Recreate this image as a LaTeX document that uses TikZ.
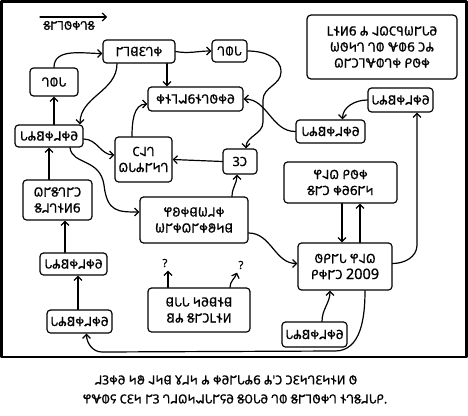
\documentclass[tikz,border=0pt]{standalone}
\usepackage{fontspec}
\setmainfont{Noto Sans}
\newfontfamily\dsr[FakeBold=0.8]{Noto Sans Deseret}
\newfontfamily\latfont[FakeBold=0.6]{Noto Sans}
\usetikzlibrary{arrows.meta,calc}
\def\dLI{\char"10400\relax}
\def\dLE{\char"10401\relax}
\def\dLA{\char"10402\relax}
\def\dLAH{\char"10403\relax}
\def\dLO{\char"10404\relax}
\def\dLOO{\char"10405\relax}
\def\dSI{\char"10406\relax}
\def\dSE{\char"10407\relax}
\def\dSA{\char"10408\relax}
\def\dSAH{\char"10409\relax}
\def\dSO{\char"1040A\relax}
\def\dSOO{\char"1040B\relax}
\def\dAY{\char"1040C\relax}
\def\dOW{\char"1040D\relax}
\def\dW{\char"1040E\relax}
\def\dY{\char"1040F\relax}
\def\dH{\char"10410\relax}
\def\dP{\char"10411\relax}
\def\dB{\char"10412\relax}
\def\dT{\char"10413\relax}
\def\dD{\char"10414\relax}
\def\dCH{\char"10415\relax}
\def\dJ{\char"10416\relax}
\def\dK{\char"10417\relax}
\def\dG{\char"10418\relax}
\def\dF{\char"10419\relax}
\def\dV{\char"1041A\relax}
\def\dETH{\char"1041B\relax}
\def\dTHEE{\char"1041C\relax}
\def\dS{\char"1041D\relax}
\def\dZ{\char"1041E\relax}
\def\dSH{\char"1041F\relax}
\def\dZH{\char"10420\relax}
\def\dR{\char"10421\relax}
\def\dL{\char"10422\relax}
\def\dM{\char"10423\relax}
\def\dN{\char"10424\relax}
\def\dNG{\char"10425\relax}
\def\dOI{\char"10426\relax}
\def\dEW{\char"10427\relax}
\newcommand\lat[1]{{\latfont #1}}
\newcommand\libtxt{\dL\dAY\dB\dR\dSE\dR\dLI}
\begin{document}
\begin{tikzpicture}[x=1pt,y=-1pt,line width=1.2pt,line cap=round,line join=round,
  box/.style={draw,rounded corners=3.5pt,inner sep=0pt,align=center,
    font=\dsr\fontsize{12.8}{16}\selectfont},
  conn/.style={-{Straight Barb[length=4pt,width=8pt]}},
  lbl/.style={inner sep=0pt,font=\dsr\fontsize{12}{15}\selectfont},
  qm/.style={inner sep=0pt,font=\latfont\fontsize{11}{11}\selectfont}]
\useasboundingbox (0,0) rectangle (468,415);
\fill[white] (0,0) rectangle (468,415);
\draw[line width=2.2pt,line cap=butt] (1.5,1.5) rectangle (466.5,357);

% legend
\coordinate (ls) at (40,17);
\coordinate (le) at (107,17);
\draw[conn] (ls) -- (le);
\node[lbl] (leg) at (69,25.5) {\dS\dSO\dP\dLAH\dR\dT\dS};

% boxes
\node[box,minimum width=72pt,minimum height=23pt] (upd) at (139,51.5) {\dSO\dP\dD\dLE\dT\dR};
\node[box,minimum width=48pt,minimum height=28pt] (toolL) at (54,82) {\dT\dLOO\dL};
\node[box,minimum width=35pt,minimum height=22pt] (toolT) at (229.5,51) {\dT\dLOO\dL};
\node[box,minimum width=95pt,minimum height=24pt] (repo) at (195.5,99) {\dR\dSI\dP\dSAH\dZ\dSI\dT\dLAH\dR\dLI};
\node[box,minimum width=150pt,minimum height=64pt,rounded corners=4pt] (note) at (382,47)
  {\dETH\dSI\dNG\dZ\ \dAY\ \dSA\dK\dCH\dSOO\dW\dSO\dL\dLI\\
   \dW\dLAH\dN\dT\ \dT\dLOO\ \dY\dLOO\dZ\ \dM\dAY\\
   \dK\dSO\dM\dP\dY\dLOO\dT\dR\ \dF\dLAH\dR};
\node[box,minimum width=65pt,minimum height=24pt] (libRT) at (400.5,100) {\libtxt};
\node[box,minimum width=69pt,minimum height=23pt] (libRM) at (330.5,131.5) {\libtxt};
\node[box,minimum width=113pt,minimum height=41pt] (fix) at (340.5,182.5)
  {\dH\dSA\dK\ \dF\dLAH\dR\\ \dS\dSO\dM\ \dR\dLI\dZ\dSO\dN};
\node[box,minimum width=94pt,minimum height=47pt] (hack) at (345,266.5)
  {\dLAH\dF\dSO\dL\ \dH\dSA\dK\\ \dF\dR\dSO\dM\ \lat{\fontsize{14.5}{16}\selectfont 2009}};
\node[box,minimum width=65pt,minimum height=25pt] (libBR) at (314.5,334.5) {\libtxt};
\node[box,minimum width=68pt,minimum height=22pt] (libL) at (49,136) {\libtxt};
\node[box,minimum width=69pt,minimum height=40pt] (custom) at (57.5,200)
  {\dK\dSO\dS\dT\dSO\dM\\ \dS\dSE\dT\dSI\dNG\dZ};
\node[box,minimum width=57pt,minimum height=45pt] (chat) at (143.5,159.5)
  {\dCH\dSA\dT\\ \dK\dL\dAY\dSO\dN\dT};
\node[box,minimum width=34pt,minimum height=25pt] (vm) at (240,161.5) {\dV\dM};
\node[box,minimum width=108pt,minimum height=46pt] (hw) at (194,220)
  {\dH\dLA\dR\dD\dW\dSE\dR\\ \dW\dSO\dR\dK\dSO\dR\dOW\dN\dD};
\node[box,minimum width=67pt,minimum height=22pt] (libLM) at (73.5,264) {\libtxt};
\node[box,minimum width=65pt,minimum height=23pt] (libLB) at (79.5,321.5) {\libtxt};
\node[box,minimum width=102pt,minimum height=44pt] (dll) at (199,310)
  {\dD\dL\dL\ \dN\dLI\dD\dSI\dD\\ \dB\dAY\ \dS\dSO\dM\dETH\dSI\dNG};
\node[qm] (q1) at (165,263) {?};
\node[qm] (q2) at (241,265) {?};

% connectors
\draw[conn] (toolL.north) to[out=90,in=180] ($(upd.west)+(0,2)$);
\draw[conn] (upd.east) to[out=-10,in=180] (toolT.west);
\draw[conn] ($(upd.south)+(28,0)$) coordinate (a1) -- (a1 |- repo.north);
\draw[conn] (toolT.east) to[out=0,in=90] (281,72) to[out=-90,in=90] (263,100)
  -- (263,122) to[out=-90,in=90] ($(vm.north)+(6,0)$);
\draw[conn] (libRM.west) to[out=180,in=0] (repo.east);
\draw[conn] (libRT.west) to[out=180,in=90] ($(libRM.north)+(12,0)$);
\draw[conn] ($(hack.east)+(0,-3)$) to[out=0,in=-90] (417,245) -- ($(libRT.south)+(16.5,0)$);
\draw[conn] ($(fix.south)+(1.5,0)$) coordinate (a2) -- (a2 |- hack.north);
\draw[conn] ($(hack.north)+(15,0)$) coordinate (a3) -- (a3 |- fix.south);
\draw[conn] ($(libBR.north)+(7.5,0)$) to[out=90,in=-90] ($(hack.south)+(-15,0)$);
\draw[conn] ($(hack.south)+(20,0)$) to[out=-90,in=0] (335,351) -- (102,352)
  to[out=180,in=-90] ($(libLB.south)+(7,0)$);
\draw[conn] ($(libLB.north)+(-1.5,0)$) coordinate (a4) -- (a4 |- libLM.south);
\draw[conn] ($(libLM.north)+(-8.5,0)$) coordinate (a5) -- (a5 |- custom.south);
\draw[conn] ($(custom.north)+(-8.5,0)$) coordinate (a6) -- (a6 |- libL.south);
\draw[conn] ($(libL.north)+(5,0)$) coordinate (a7) -- (a7 |- toolL.south);
\draw[conn] ($(upd.south)+(-22,0)$) to[out=-90,in=90] ($(libL.north)+(31,0)$);
\draw[conn] ($(libL.east)+(0,3)$) to[out=0,in=180] ($(chat.west)+(0,-4.5)$);
\draw[conn] ($(libL.south)+(21,0)$) .. controls (72,165) and (100,158) .. (104,185)
  .. controls (107,212) and (118,212) .. ($(hw.west)+(0,-8)$);
\draw[conn] ($(chat.north)+(-11.5,0)$) to[out=90,in=180] ($(repo.west)+(0,5)$);
\draw[conn] (vm.west) -- (chat.east);
\draw[conn] ($(hw.north)+(38,0)$) to[out=90,in=-90] ($(vm.south)+(-3,0)$);
\draw[conn] ($(hw.east)+(0,13)$) to[out=0,in=180] ($(hack.west)+(0,-3)$);
\draw[conn] ($(dll.north)+(-31,0)$) -- ($(q1.south)+(3,3)$);
\draw[conn] ($(dll.north)+(31,0)$) to[out=90,in=-110] ($(q2.south)+(-4,3)$);

% caption
\node[lbl,font=\dsr\fontsize{12.5}{15}\selectfont] (cap1) at (226,380)
  {\dSE\dV\dR\dLI\ \dN\dOW\ \dSA\dN\dD\ \dTHEE\dSE\dN\ \dAY\ \dR\dLI\dSO\dL\dAY\dZ\ \dAY\lat{'}\dM\ \dM\dLE\dN\dT\dLE\dN\dSI\dNG\ \dLAH};
\node[lbl,font=\dsr\fontsize{12.5}{15}\selectfont] (cap2) at (235,399)
  {\dH\dY\dLOO\dJ\ \dCH\dLE\dN\ \dSO\dV\ \dT\dSE\dK\dN\dSAH\dL\dSO\dJ\dLI\ \dS\dLO\dL\dLI\ \dT\dLOO\ \dS\dSO\dP\dLAH\dR\dT\ \dSI\dT\dS\dSE\dL\dF\lat{.}};
\end{tikzpicture}
\end{document}
